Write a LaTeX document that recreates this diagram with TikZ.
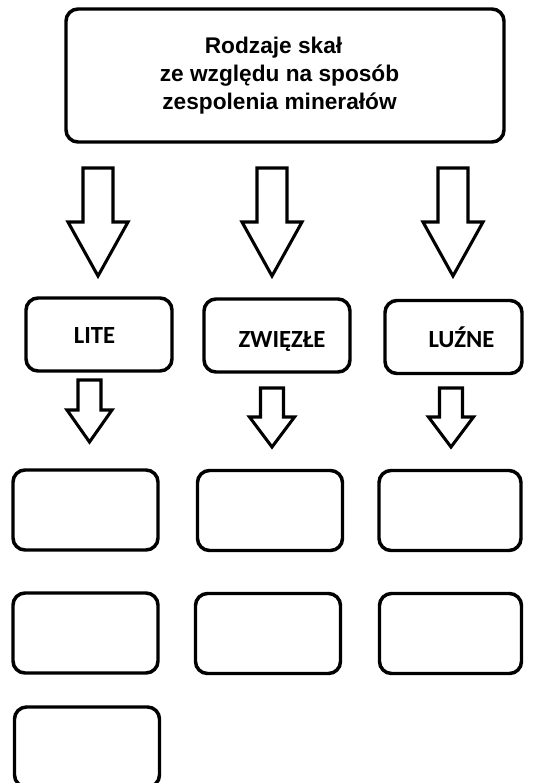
\documentclass[tikz,border=0pt]{standalone}
\usepackage{fontspec}
\setmainfont{Liberation Sans}
\newfontfamily\labelfont{Carlito}
\begin{document}
\begin{tikzpicture}[x=0.75pt,y=-0.75pt,
        box/.style={draw,line width=2.6pt,rounded corners=9pt,inner sep=0pt},
        kind/.style={box,minimum height=73*0.75pt},
        kindtext/.style={inner sep=0pt,text height=16pt,text depth=0pt,font=\labelfont\bfseries\fontsize{18.5}{20}\selectfont},
        slot/.style={box,minimum width=145*0.75pt,minimum height=80*0.75pt},
        blockarr/.style={line width=2.3pt,line join=miter}]
                \useasboundingbox (0,0) rectangle (534,783);
                %% title
                \node[box,minimum width=438*0.75pt,minimum height=133*0.75pt,
                    label={[align=center,inner sep=0pt,xshift=-4.1pt,font=\bfseries\fontsize{17}{21}\selectfont]center:Rodzaje skał\hspace*{9pt}\\ze względu na sposób\\zespolenia minerałów}]
                    (title) at (285,75.5) {};
                %% big arrows
                \foreach \x in {98,272,453}
                    \draw[blockarr] (\x-15,168) -- (\x+15,168) -- (\x+15,222) -- (\x+30,222)
                        -- (\x,276) -- (\x-30,222) -- (\x-15,222) -- cycle;
                %% kinds
                \node[kind,minimum width=146*0.75pt,label={[kindtext,xshift=-3.4pt,yshift=0.9pt]center:LITE}] (lite) at (99,334.5) {};
                \node[kind,minimum width=146*0.75pt,label={[kindtext,xshift=3.75pt,yshift=-1pt]center:ZWIĘZŁE}] (zwiezle) at (277,335.5) {};
                \node[kind,minimum width=137*0.75pt,label={[kindtext,xshift=6pt]center:LUŹNE}] (luzne) at (453.5,337) {};
                %% small arrows
                \draw[blockarr] (78,380) -- (101,380) -- (101,410) -- (112,410)
                    -- (89.5,442) -- (67,410) -- (78,410) -- cycle;
                \foreach \x in {272,451}
                    \draw[blockarr] (\x-11.5,388) -- (\x+11.5,388) -- (\x+11.5,417) -- (\x+22.5,417)
                        -- (\x,447) -- (\x-22.5,417) -- (\x-11.5,417) -- cycle;
                %% empty slots
                \node[slot] (lite1) at (85.5,510) {};
                \node[slot] (lite2) at (85.5,633) {};
                \node[slot] (lite3) at (87,747) {};
                \node[slot] (zwiezle1) at (270,510.5) {};
                \node[slot] (zwiezle2) at (268,633.5) {};
                \node[slot,minimum width=142*0.75pt] (luzne1) at (450,510.5) {};
                \node[slot,minimum width=142*0.75pt] (luzne2) at (450.5,633.5) {};
            \end{tikzpicture}
\end{document}
